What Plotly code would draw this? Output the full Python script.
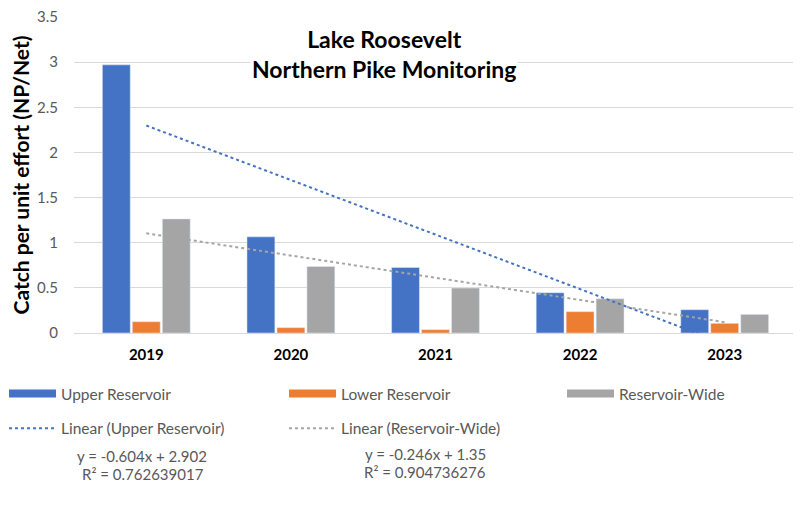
import plotly.graph_objects as go

years = ["2019", "2020", "2021", "2022", "2023"]
upper = [2.97, 1.065, 0.726, 0.446, 0.258]
lower = [0.125, 0.059, 0.037, 0.236, 0.107]
wide = [1.264, 0.737, 0.498, 0.379, 0.206]

# trendline coefficients as displayed on the chart
upper_slope, upper_intercept, upper_r2 = -0.604, 2.902, "0.762639017"
wide_slope, wide_intercept, wide_r2 = -0.246, 1.35, "0.904736276"

idx = list(range(1, len(years) + 1))
upper_trend = [upper_slope * i + upper_intercept for i in idx]
wide_trend = [wide_slope * i + wide_intercept for i in idx]

BLUE, ORANGE, GRAY = "#4472C4", "#ED7D31", "#A5A5A5"
TXT = "#595959"
FONT = "Lato, Roboto, sans-serif"
BFONT = "Lato, Roboto, sans-serif"

fig = go.Figure()
for name, vals, col in [("Upper Reservoir", upper, BLUE),
                        ("Lower Reservoir", lower, ORANGE),
                        ("Reservoir-Wide", wide, GRAY)]:
    fig.add_trace(go.Bar(x=years, y=vals, name=name, marker_color=col, showlegend=False))
fig.add_trace(go.Scatter(x=years, y=upper_trend, mode="lines", name="Linear (Upper Reservoir)",
                         line=dict(color=BLUE, dash="dot", width=2), legend="legend2"))
fig.add_trace(go.Scatter(x=years, y=wide_trend, mode="lines", name="Linear (Reservoir-Wide)",
                         line=dict(color=GRAY, dash="dot", width=2), legend="legend2"))
# legend swatches (wide rectangles, as in the original)
for name, col, leg in [("Upper Reservoir", BLUE, "legend"), ("Lower Reservoir", ORANGE, "legend"),
                       ("Reservoir-Wide", GRAY, "legend3")]:
    fig.add_trace(go.Scatter(x=[None], y=[None], mode="lines", name=name,
                             line=dict(color=col, width=8), legend=leg, hoverinfo="skip"))

LEG = dict(orientation="h", x=-0.0968, xanchor="left", yanchor="middle",
           entrywidth=218, font=dict(size=15.5, color=TXT, family=FONT), itemwidth=47)

# the page body has an 8px margin, so the figure is shifted by 8px
fig.update_layout(
    width=793, height=505,
    margin=dict(l=66, r=4, t=9, b=180, autoexpand=False),
    paper_bgcolor="white", plot_bgcolor="white",
    font=dict(family=FONT, color=TXT, size=14),
    barmode="group", bargap=0.378, bargroupgap=0.07,
    showlegend=True,
    legend=dict(LEG, y=-0.193),
    legend3=dict(LEG, y=-0.193, x=0.675),
    legend2=dict(LEG, y=-0.303),
    xaxis=dict(showgrid=False, showline=True, linecolor="#D9D9D9", linewidth=1,
               tickfont=dict(family=BFONT, size=15, color="black", weight="bold"),
               ticks="", ticklabelstandoff=8),
    yaxis=dict(range=[0, 3.5], dtick=0.5, showgrid=True, gridcolor="#D9D9D9", gridwidth=1,
               zeroline=False, ticks="", tickformat="~g", ticklabeloverflow="allow",
               tickfont=dict(size=15, color=TXT, family=FONT), ticklabelstandoff=15,
               title=dict(text="<b>Catch per unit effort (NP/Net)</b>", standoff=4,
                          font=dict(family=BFONT, size=21, color="black"))),
    annotations=[
        dict(text="<b>Lake Roosevelt<br>Northern Pike Monitoring</b>", xref="paper", yref="paper",
             x=0.429, y=0.883, xanchor="center", yanchor="middle", showarrow=False,
             bgcolor="white", font=dict(family=BFONT, size=23, color="black")),
        dict(text=f"y = {upper_slope}x + {upper_intercept}", xref="paper", yref="paper",
             x=0.094, y=-0.389, xanchor="center", yanchor="middle", showarrow=False,
             font=dict(size=15, color=TXT, family=FONT)),
        dict(text=f"R² = {upper_r2}", xref="paper", yref="paper",
             x=0.096, y=-0.446, xanchor="center", yanchor="middle", showarrow=False,
             font=dict(size=15, color=TXT, family=FONT)),
        dict(text=f"y = {wide_slope}x + {wide_intercept}", xref="paper", yref="paper",
             x=0.486, y=-0.383, xanchor="center", yanchor="middle", showarrow=False,
             font=dict(size=15, color=TXT, family=FONT)),
        dict(text=f"R² = {wide_r2}", xref="paper", yref="paper",
             x=0.486, y=-0.440, xanchor="center", yanchor="middle", showarrow=False,
             font=dict(size=15, color=TXT, family=FONT)),
    ],
)

fig.write_html("out.html")
